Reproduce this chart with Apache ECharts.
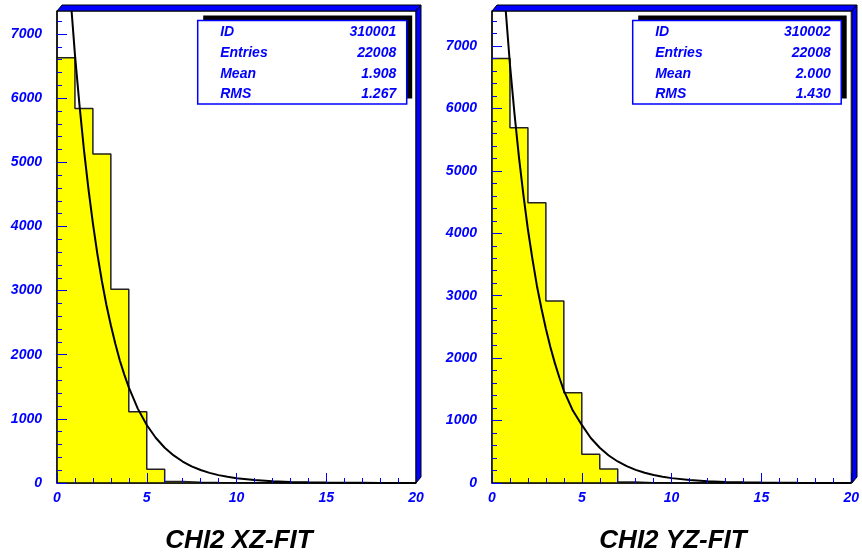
<!DOCTYPE html>
<html>
<head>
<meta charset="utf-8">
<script src="https://cdn.jsdelivr.net/npm/echarts@6/dist/echarts.min.js"></script>
<style>
  html, body { margin: 0; padding: 0; background: #fff; }
  #chart { width: 862px; height: 557px; }
</style>
</head>
<body>
<div id="chart"></div>
<script>
// histogram contents, 20 bins of width 1 from 0 to 20
const binsXZ = [6630, 5840, 5130, 3020, 1110, 215, 25, 12, 8, 5, 3, 2, 1, 1, 1, 0, 0, 0, 0, 0];
const binsYZ = [6800, 5690, 4490, 2915, 1445, 460, 225, 16, 6, 3, 2, 1, 1, 0, 0, 0, 0, 0, 0, 0];

// fitted curve
const fitX  = [0.5, 0.75, 1, 1.25, 1.5, 1.75, 2, 2.25, 2.5, 2.75, 3, 3.25, 3.5, 3.75, 4, 4.5, 5, 5.5, 6, 6.5, 7,
               7.5, 8, 8.5, 9, 9.5, 10, 11, 12, 13, 14, 15, 16, 17, 18, 19, 20];
const fitXZ = [8570, 7590, 6680, 5900, 5200, 4590, 4050, 3570, 3150, 2780, 2460, 2170, 1910, 1690, 1490, 1160, 905, 705, 550, 430, 335,
               260, 203, 158, 123, 96, 75, 46, 28, 17, 10, 6, 4, 2.3, 1.4, 0.8, 0.5];
const fitYZ = [8600, 7620, 6700, 5920, 5220, 4610, 4060, 3590, 3160, 2800, 2470, 2180, 1920, 1690, 1480, 1160, 930, 720, 565, 440, 345,
               270, 210, 163, 128, 100, 78, 48, 29, 18, 11, 7, 4, 2.5, 1.5, 0.9, 0.5];

// axis ticks
const yMajor = [0, 1000, 2000, 3000, 4000, 5000, 6000, 7000];
const yMinor = [200, 400, 600, 800, 1200, 1400, 1600, 1800, 2200, 2400, 2600, 2800, 3200, 3400, 3600, 3800,
                4200, 4400, 4600, 4800, 5200, 5400, 5600, 5800, 6200, 6400, 6600, 6800, 7200, 7400];
const yMaxXZ = 7360;
const yMaxYZ = 7560;

// stats boxes
const statNames = ['ID', 'Entries', 'Mean', 'RMS'];
const statsXZ = ['310001', '22008', '1.908', '1.267'];
const statsYZ = ['310002', '22008', '2.000', '1.430'];

const titles = ['CHI2 XZ-FIT', 'CHI2 YZ-FIT'];

const FONT = '"Liberation Sans", Arial, sans-serif';
const BLUE = '#0000ff';

function histPoints(bins) {
  const pts = bins.map((v, i) => [i, v]);
  pts.push([bins.length, bins[bins.length - 1]]);
  return pts;
}
function curvePoints(xs, ys) {
  return xs.map((x, i) => [x, ys[i]]);
}

function xAxisOpt(gi) {
  return {
    type: 'value', gridIndex: gi, min: 0, max: 20, interval: 5, z: 10,
    axisLine: { lineStyle: { color: '#000', width: 1.5 } },
    axisTick: { inside: true, length: 10, lineStyle: { color: BLUE, width: 1 } },
    minorTick: { show: true, splitNumber: 5, length: 5, lineStyle: { color: BLUE, width: 1 } },
    splitLine: { show: false },
    axisLabel: { color: BLUE, fontFamily: FONT, fontWeight: 'bold', fontStyle: 'italic', fontSize: 14, margin: 8,
      formatter: v => String(v) }
  };
}
function yAxisMajor(gi, max) {
  return {
    type: 'value', gridIndex: gi, min: 0, max: max, position: 'left', z: 10,
    axisLine: { show: true, lineStyle: { color: '#000', width: 1.5 } },
    axisTick: { show: true, inside: true, length: 10, customValues: yMajor, lineStyle: { color: BLUE, width: 1 } },
    splitLine: { show: false },
    axisLabel: { customValues: yMajor, color: BLUE, fontFamily: FONT, fontWeight: 'bold', fontStyle: 'italic', fontSize: 14, margin: 15,
      formatter: v => String(v) }
  };
}
function yAxisMinor(gi, max) {
  return {
    type: 'value', gridIndex: gi, min: 0, max: max, position: 'left', z: 10,
    axisLine: { show: false },
    axisTick: { show: true, inside: true, length: 5, customValues: yMinor, lineStyle: { color: BLUE, width: 1 } },
    splitLine: { show: false },
    axisLabel: { show: false }
  };
}

// 3D frame bands + stats box, placed per panel
function panelDeco(px, pr, bx, bw, names, vals) {
  const els = [];
  els.push({ type: 'polygon', z: 100, shape: { points: [[px, 11], [px + 5, 5], [pr + 5, 5], [pr, 11]] },
    style: { fill: BLUE, stroke: '#000', lineWidth: 1 } });
  els.push({ type: 'polygon', z: 100, shape: { points: [[pr, 11], [pr + 5, 5], [pr + 5, 477], [pr, 483]] },
    style: { fill: BLUE, stroke: '#000', lineWidth: 1 } });
  els.push({ type: 'rect', z: 100, shape: { x: bx + 5.5, y: 15.5, width: bw, height: 83 }, style: { fill: '#000' } });
  els.push({ type: 'rect', z: 101, shape: { x: bx, y: 20.5, width: bw, height: 83.5 },
    style: { fill: '#fff', stroke: BLUE, lineWidth: 1.5 } });
  names.forEach((n, i) => {
    const y = 32.3 + i * 20.7;
    els.push({ type: 'text', z: 102, style: { text: n, x: bx + 22.5, y: y, fill: BLUE,
      font: 'italic bold 14px ' + FONT, textAlign: 'left', textVerticalAlign: 'middle' } });
    els.push({ type: 'text', z: 102, style: { text: vals[i], x: bx + bw - 10.5, y: y, fill: BLUE,
      font: 'italic bold 14px ' + FONT, textAlign: 'right', textVerticalAlign: 'middle' } });
  });
  return els;
}

const chart = echarts.init(document.getElementById('chart'));

const option = {
  backgroundColor: '#fff',
  animation: false,
  title: [
    { text: titles[0], left: 234, top: 523, textAlign: 'center',
      textStyle: { fontFamily: FONT, fontWeight: 'bold', fontStyle: 'italic', fontSize: 26, color: '#000' } },
    { text: titles[1], left: 668, top: 523, textAlign: 'center',
      textStyle: { fontFamily: FONT, fontWeight: 'bold', fontStyle: 'italic', fontSize: 26, color: '#000' } }
  ],
  grid: [
    { left: 57, top: 11, width: 359, height: 472, show: true, borderColor: '#000', borderWidth: 1, backgroundColor: '#fff' },
    { left: 492, top: 11, width: 360, height: 472, show: true, borderColor: '#000', borderWidth: 1, backgroundColor: '#fff' }
  ],
  xAxis: [xAxisOpt(0), xAxisOpt(1)],
  yAxis: [yAxisMajor(0, yMaxXZ), yAxisMinor(0, yMaxXZ), yAxisMajor(1, yMaxYZ), yAxisMinor(1, yMaxYZ)],
  series: [
    { type: 'line', xAxisIndex: 0, yAxisIndex: 0, step: 'end', symbol: 'none', data: histPoints(binsXZ),
      lineStyle: { color: '#222', width: 1.5 }, areaStyle: { color: '#ffff00', opacity: 1 } },
    { type: 'line', xAxisIndex: 0, yAxisIndex: 0, symbol: 'none', clip: true,
      data: curvePoints(fitX, fitXZ), lineStyle: { color: '#000', width: 2 } },
    { type: 'line', xAxisIndex: 1, yAxisIndex: 2, step: 'end', symbol: 'none', data: histPoints(binsYZ),
      lineStyle: { color: '#222', width: 1.5 }, areaStyle: { color: '#ffff00', opacity: 1 } },
    { type: 'line', xAxisIndex: 1, yAxisIndex: 2, symbol: 'none', clip: true,
      data: curvePoints(fitX, fitYZ), lineStyle: { color: '#000', width: 2 } }
  ],
  graphic: [].concat(
    panelDeco(57, 416, 197.7, 209, statNames, statsXZ),
    panelDeco(492, 852, 632.7, 208.5, statNames, statsYZ)
  )
};

chart.setOption(option);
</script>
</body>
</html>
